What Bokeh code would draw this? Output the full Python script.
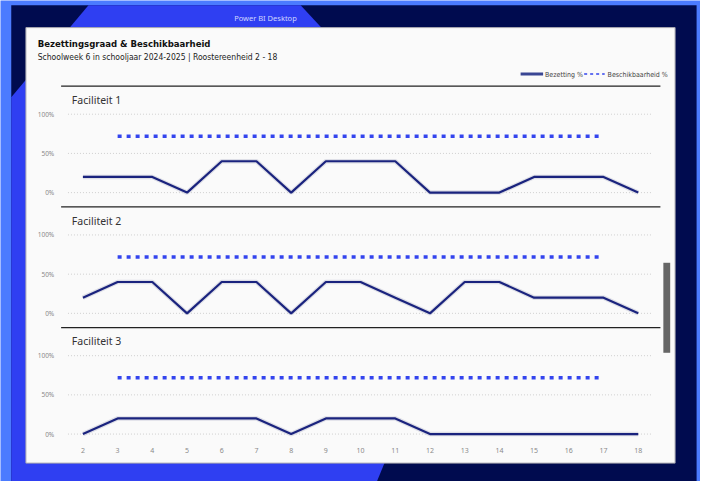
from bokeh.plotting import figure
from bokeh.models import Range1d
from bokeh.core.properties import value
from bokeh.embed import file_html
from bokeh.resources import INLINE

# ---------------- data ----------------
weeks = [2, 3, 4, 5, 6, 7, 8, 9, 10, 11, 12, 13, 14, 15, 16, 17, 18]
x_labels = ["2", "3", "4", "5", "6", "7", "8", "9", "10", "11", "12", "13", "14", "15", "16", "17", "18"]
facilities = ["Faciliteit 1", "Faciliteit 2", "Faciliteit 3"]
bezetting_f1 = [20, 20, 20, 0, 40, 40, 0, 40, 40, 40, 0, 0, 0, 20, 20, 20, 0]
bezetting_f2 = [20, 40, 40, 0, 40, 40, 0, 40, 40, 20, 0, 40, 40, 20, 20, 20, 0]
bezetting_f3 = [0, 20, 20, 20, 20, 20, 0, 20, 20, 20, 0, 0, 0, 0, 0, 0, 0]
besch_weeks = [3, 4, 5, 6, 7, 8, 9, 10, 11, 12, 13, 14, 15, 16, 17]
beschikbaarheid_f1 = [72, 72, 72, 72, 72, 72, 72, 72, 72, 72, 72, 72, 72, 72, 72]
beschikbaarheid_f2 = [72, 72, 72, 72, 72, 72, 72, 72, 72, 72, 72, 72, 72, 72, 72]
beschikbaarheid_f3 = [72, 72, 72, 72, 72, 72, 72, 72, 72, 72, 72, 72, 72, 72, 72]
y_ticks = [0, 50, 100]
y_tick_labels = ["0%", "50%", "100%"]
title = "Bezettingsgraad & Beschikbaarheid"
subtitle = "Schoolweek 6 in schooljaar 2024-2025 | Roostereenheid 2 - 18"
legend_labels = ["Bezetting %", "Beschikbaarheid %"]

bezetting = [bezetting_f1, bezetting_f2, bezetting_f3]
beschikbaarheid = [beschikbaarheid_f1, beschikbaarheid_f2, beschikbaarheid_f3]

# ---------------- layout (reference pixel coordinates, scaled into canvas) ----------------
W, H = 700, 481
PX0, PX1 = 0, 716
PY0, PY1 = 0, 497
X_FIRST_PX, X_LAST_PX = 84.3, 652.3
px_per_unit = (X_LAST_PX - X_FIRST_PX) / (weeks[-1] - weeks[0])
x_start = weeks[0] - (X_FIRST_PX - PX0) / px_per_unit
x_end = weeks[-1] + (PX1 - X_LAST_PX) / px_per_unit

PANEL_STEP = 124.75
ZERO_Y = [198.5 + PANEL_STEP * k for k in range(3)]
PX_PER_PCT = 0.81

NAVY = "#000B4F"
LIGHTBLUE = "#4B7BFF"
MIDBLUE = "#2F3FF2"
CARD = "#FAFAFA"
COND = value("DejaVu Sans Condensed, Roboto, sans-serif")
SANS = value("Noto Sans")

extra_y = {}
for k in range(3):
    z = ZERO_Y[k]
    extra_y[f"f{k}"] = Range1d(start=(z - PY1) / PX_PER_PCT, end=(z - PY0) / PX_PER_PCT)

p = figure(width=W, height=H, output_backend="svg", toolbar_location=None,
           x_range=Range1d(x_start, x_end), y_range=Range1d(PY1, PY0),
           x_axis_location=None, y_axis_location=None, min_border=0)
p.extra_x_ranges = {"px": Range1d(PX0, PX1)}
p.extra_y_ranges = extra_y
p.grid.visible = False
p.outline_line_color = None
p.background_fill_color = LIGHTBLUE
p.border_fill_color = LIGHTBLUE

# ---------------- background decoration ----------------
p.quad(left=[11], right=[712], top=[5], bottom=[497], x_range_name="px",
       fill_color=NAVY, line_color=None)
p.patch(x=[11, 90, 307, 500, 385, 11], y=[100, 5, 5, 215, 497, 497], x_range_name="px",
        fill_color=MIDBLUE, line_color=None)
p.text(x=[271], y=[18], text=["Power BI Desktop"], x_range_name="px",
       text_font=SANS, text_font_size="7.5px", text_color="#D0D6FF",
       text_align="center", text_baseline="middle")
p.quad(left=[26], right=[690], top=[28], bottom=[478], x_range_name="px",
       fill_color=CARD, line_color="#A8A8B0", line_width=1)
p.quad(left=[678], right=[685], top=[271], bottom=[364], x_range_name="px",
       fill_color="#666666", line_color=None)

# ---------------- titles ----------------
p.text(x=[38], y=[44], text=[title], x_range_name="px",
       text_font=COND, text_font_style="bold",
       text_font_size="9.5px", text_color="#111111", text_baseline="middle")
p.text(x=[38], y=[58.5], text=[subtitle], x_range_name="px",
       text_font=COND, text_font_size="8.5px",
       text_color="#222222", text_baseline="middle")

# legend
p.segment(x0=[532], x1=[555], y0=[76], y1=[76], x_range_name="px",
          line_color="#3A4694", line_width=3)
p.segment(x0=[597], x1=[618], y0=[76], y1=[76], x_range_name="px",
          line_color="#3344EE", line_width=1.5, line_dash="3 3")
p.text(x=[557, 621], y=[76.5, 76.5], text=legend_labels, x_range_name="px",
       text_font=COND, text_font_size="7px",
       text_color="#444444", text_baseline="middle")

# ---------------- panels ----------------
for k in range(3):
    rn = f"f{k}"
    sep_y = 88.5 + PANEL_STEP * k
    p.segment(x0=[62], x1=[675], y0=[sep_y], y1=[sep_y], x_range_name="px",
              line_color="#222222", line_width=1.2)
    p.text(x=[73], y=[102.7 + PANEL_STEP * k], text=[facilities[k]], x_range_name="px",
           text_font=SANS, text_font_size="10.5px", text_color="#333333",
           text_baseline="middle")
    p.segment(x0=[69] * len(y_ticks), x1=[667] * len(y_ticks), y0=y_ticks, y1=y_ticks,
              x_range_name="px", y_range_name=rn, line_color="#CFCFCF", line_width=1,
              line_dash="1 2")
    p.text(x=[55] * len(y_ticks), y=y_ticks, text=y_tick_labels, x_range_name="px",
           y_range_name=rn, text_font=SANS, text_font_size="6.5px",
           text_color="#8A8A8A", text_align="right", text_baseline="middle")
    p.line(besch_weeks, beschikbaarheid[k], y_range_name=rn, line_color="#3344EE",
           line_width=3.5, line_dash="4 5")
    p.line(weeks, bezetting[k], y_range_name=rn, line_color="#C9CBD8", line_width=4.5,
           line_alpha=0.6)
    p.line(weeks, bezetting[k], y_range_name=rn, line_color="#1A237E", line_width=2.2)

# x tick labels
p.text(x=weeks, y=[465] * len(weeks), text=x_labels, text_font=SANS,
       text_font_size="7px", text_color="#8A8A8A", text_align="center",
       text_baseline="middle")

open("out.html", "w").write(file_html(p, INLINE))
